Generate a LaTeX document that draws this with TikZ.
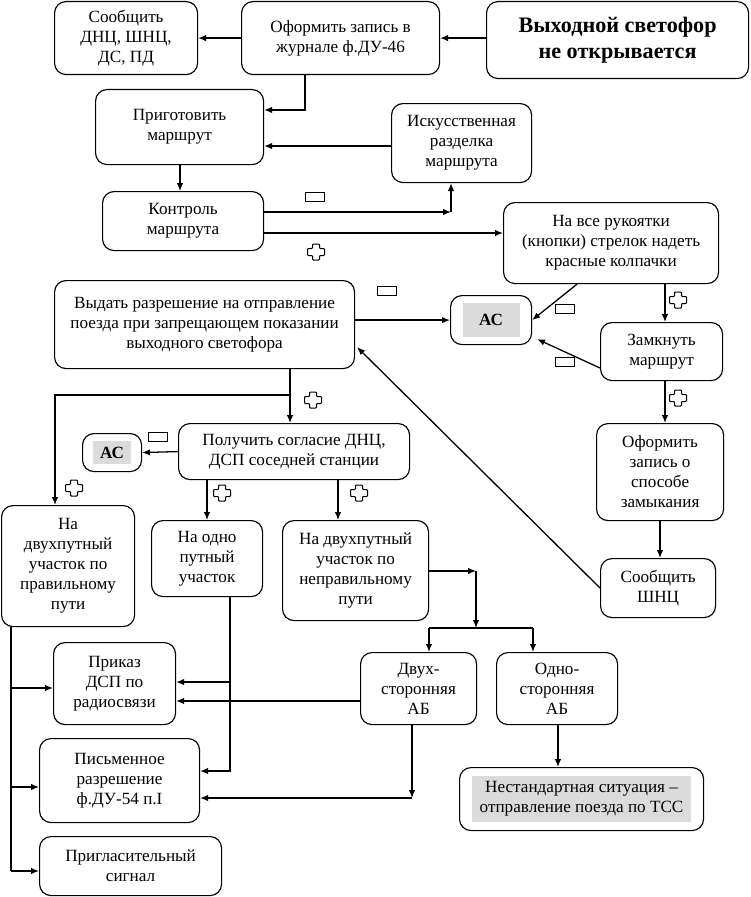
\documentclass[tikz,border=0pt]{standalone}
\usepackage{fontspec}
\setmainfont{Liberation Serif}
\usepackage{xcolor}
\usetikzlibrary{arrows.meta, positioning, calc}
\definecolor{acgray}{gray}{0.86}
\newcommand{\px}{0.7pt}
\newcommand{\grayplate}[3]{{\setlength{\fboxsep}{0pt}\colorbox{acgray}{\parbox[c][#2][c]{#1}{\centering #3}}}}

\begin{document}
\begin{tikzpicture}[
        x=\px, y=-\px,
        box/.style={rectangle, draw, rounded corners=8pt, line width=0.8pt, align=center, inner sep=1pt, anchor=north west, font=\fontsize{12}{14}\selectfont},
        sz/.style 2 args={minimum width=#1*\px, minimum height=#2*\px},
        wire/.style={line width=0.9pt},
        link/.style={wire, -{Latex[length=5.5pt, width=4.5pt]}},
        plusmark/.pic={\draw[line width=0.7pt, rounded corners=0.6pt] (-3.5,-8) -- (3.5,-8) -- (3.5,-3.5) -- (8.5,-3.5) -- (8.5,3.5) -- (3.5,3.5) -- (3.5,8) -- (-3.5,8) -- (-3.5,3.5) -- (-8.5,3.5) -- (-8.5,-3.5) -- (-3.5,-3.5) -- cycle;},
        minusmark/.pic={\draw[line width=0.7pt] (-9.5,-4.5) rectangle (9.5,4.5);}
    ]
    \useasboundingbox (0,0) rectangle (750,897);

    % Top row
    \node[box, sz={262}{77}, font=\fontsize{15.5}{18}\selectfont\bfseries] (signal) at (486,1) {Выходной светофор\\не открывается};
    \node[box, sz={198}{73}] (journal) at (241,1) {Оформить запись в\\журнале ф.ДУ-46};
    \node[box, sz={143}{73}] (inform) at (54,1) {Сообщить\\ДНЦ, ШНЦ,\\ДС, ПД};

    % Route
    \node[box, sz={168}{75}] (prepare) at (95,89) {Приготовить\\маршрут};
    \node[box, sz={140}{79}] (release) at (391,103) {Искусственная\\разделка\\маршрута};
    \node[box, sz={161}{59}] (check) at (102,191) {Контроль\\маршрута};
    \node[box, sz={215}{81}] (caps) at (503,202) {На все рукоятки\\(кнопки) стрелок надеть\\красные колпачки};

    % Permission
    \node[box, sz={300}{88}] (permit) at (54,280) {Выдать разрешение на отправление\\поезда при запрещающем показании\\выходного светофора};
    \node[box, sz={81}{49}] (ac1) at (450,295) {\grayplate{40pt}{24pt}{\textbf{АС}}};
    \node[box, sz={122}{58}] (lock) at (600,322) {Замкнуть\\маршрут};
    \node[box, sz={127}{97}] (record) at (596,423) {Оформить\\запись о\\способе\\замыкания};
    \node[box, sz={115}{59}] (shnc) at (600,558) {Сообщить\\ШНЦ};
    \node[box, sz={231}{56}] (consent) at (178,423) {Получить согласие ДНЦ,\\ДСП соседней станции};
    \node[box, sz={59}{38}] (ac2) at (82,433) {\grayplate{27pt}{16pt}{\textbf{АС}}};

    % Sections
    \node[box, sz={133}{121}] (right) at (1,505) {На\\двухпутный\\участок по\\правильному\\пути};
    \node[box, sz={111}{76}] (single) at (151,520) {На одно\\путный\\участок};
    \node[box, sz={146}{100}] (wrong) at (282,520) {На двухпутный\\участок по\\неправильному\\пути};
    \node[box, sz={116}{72}] (twoway) at (360,652) {Двух-\\сторонняя\\АБ};
    \node[box, sz={121}{72}] (oneway) at (496,652) {Одно-\\сторонняя\\АБ};

    % Outcomes
    \node[box, sz={122}{82}] (radio) at (53,642) {Приказ\\ДСП по\\радиосвязи};
    \node[box, sz={160}{84}] (written) at (39,738) {Письменное\\разрешение\\ф.ДУ-54 п.I};
    \node[box, sz={182}{59}] (invite) at (39,836) {Пригласительный\\сигнал};
    \node[box, sz={244}{63}] (tss) at (459,767) {\grayplate{153pt}{32pt}{Нестандартная ситуация –\\отправление поезда по ТСС}};

    % Corners
    \coordinate (k1) at (451,212);
    \coordinate (k2) at (290,395);
    \coordinate (k3) at (55,395);
    \coordinate (k4) at (476,571);
    \coordinate (k5) at (476,628);
    \coordinate (k6) at (429,628);
    \coordinate (k7) at (533,628);
    \coordinate (k8) at (11,871);
    \coordinate (k9) at (230,771);
    \coordinate (k10) at (412,798);

    % Arrows, top part
    \draw[link] (signal.west |- journal.east) -- (journal.east);
    \draw[link] (journal.west) -- (inform.east);
    \draw[link] (journal.south -| 305,0) |- (prepare.east |- 0,110);
    \draw[link] (release.west |- 0,146) -- (prepare.east |- 0,146);
    \draw[link] (prepare.south -| 180,0) -- (check.north -| 180,0);
    \draw[link] (check.east |- k1) -- (k1);
    \draw[link] (k1) -- (release.south -| k1);
    \draw[link] (check.east |- 0,233) -- (caps.west |- 0,233);
    \draw[link] (permit.east |- ac1.west) -- (ac1.west);
    \draw[link] (caps.south -| 577,0) -- (ac1.east);
    \draw[link] (caps.south -| 665,0) -- (lock.north -| 665,0);
    \draw[link] (lock.west |- 0,368) -- ($(ac1.south east)+(5,-6)$);
    \draw[link] (lock.south -| 665,0) -- (record.north -| 665,0);
    \draw[link] (record.south -| 660,0) -- (shnc.north -| 660,0);
    \draw[link] (shnc.west |- 0,588) -- ($(permit.south east)+(2,-22)$);

    % Arrows, middle part
    \draw[link] (permit.south -| k2) -- (consent.north -| k2);
    \draw[link] (k2) -- (k3) -- (right.north -| k3);
    \draw[link] (consent.west) -- (ac2.east);
    \draw[link] (consent.south -| 207,0) -- (single.north -| 207,0);
    \draw[link] (consent.south -| 338,0) -- (wrong.north -| 338,0);
    \draw[link] (wrong.east |- k4) -- (k4);
    \draw[link] (k4) -- (k5);
    \draw[wire] (k6) -- (k7);
    \draw[link] (k6) -- (twoway.north -| k6);
    \draw[link] (k7) -- (oneway.north -| k7);

    % Arrows, bottom part
    \draw[wire] (right.south -| k8) -- (k8);
    \draw[link] (k8 |- 0,688) -- (radio.west |- 0,688);
    \draw[link] (k8 |- 0,787) -- (written.west |- 0,787);
    \draw[link] (k8) -- (invite.west |- k8);
    \draw[link] (single.south -| k9) -- (k9) -- (written.east |- k9);
    \draw[link] (k9 |- 0,682) -- (radio.east |- 0,682);
    \draw[link] (twoway.west |- 0,701) -- (radio.east |- 0,701);
    \draw[link] (twoway.south -| k10) -- (k10);
    \draw[link] (k10) -- (written.east |- k10);
    \draw[link] (oneway.south -| 558,0) -- (tss.north -| 558,0);

    % Yes / no marks
    \pic at (316,252) {plusmark};
    \pic at (313,400) {plusmark};
    \pic at (678,300) {plusmark};
    \pic at (678,398) {plusmark};
    \pic at (74,488) {plusmark};
    \pic at (222,493) {plusmark};
    \pic at (359,493) {plusmark};
    \pic at (315,197) {minusmark};
    \pic at (387,291) {minusmark};
    \pic at (565,309) {minusmark};
    \pic at (565,362) {minusmark};
    \pic at (158,437) {minusmark};

\end{tikzpicture}
\end{document}
